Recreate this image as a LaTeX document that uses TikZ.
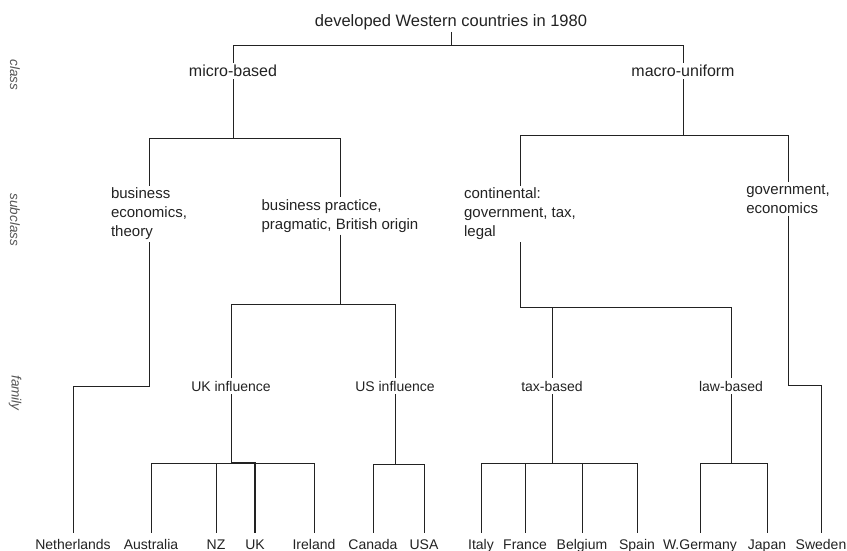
\documentclass[tikz,border=0pt]{standalone}
\usepackage{fontspec}
\setmainfont{Liberation Sans}
\usepackage{tikz}
\usetikzlibrary{positioning, calc}
\definecolor{ink}{HTML}{222222}
\definecolor{faint}{HTML}{555555}
\tikzstyle{rootnode}  = [font=\fontsize{16.5}{20}\selectfont, inner sep=2pt, text=ink]
\tikzstyle{classnode} = [font=\fontsize{16}{19}\selectfont, inner sep=2pt, text=ink]
\tikzstyle{subnode}   = [font=\fontsize{15}{19}\selectfont, align=left, inner sep=2pt, text=ink]
\tikzstyle{famnode}   = [font=\fontsize{14}{17}\selectfont, anchor=base, inner sep=3pt, text=ink]
\tikzstyle{leaf}      = [font=\fontsize{14}{17}\selectfont, anchor=base, inner xsep=2pt,
                         inner ysep=6pt, text=ink]
\tikzstyle{levelname} = [font=\fontsize{13.5}{16}\selectfont\itshape, rotate=-90, text=faint]
\tikzstyle{branch}    = [draw=ink, line width=0.8pt]

\begin{document}
\begin{tikzpicture}[x=1pt, y=-1pt]
  \useasboundingbox (0,0) rectangle (847,551);

  %% Level names
  \node[levelname] (lvclass) at (15,75)  {class};
  \node[levelname] (lvsub)   at (15,220) {subclass};
  \node[levelname] (lvfam)   at (15,393) {family};

  %% Root and classes
  \node[rootnode]  (root)  at (451,22) {developed Western countries in 1980};
  \node[classnode] (micro) at (233,71) {micro-based};
  \node[classnode] (macro) at (683,71) {macro-uniform};

  %% Subclasses
  \node[subnode] (bizecon) at (149,214) {business\\economics,\\theory};
  \node[subnode] (bizprac) at (340,216) {business practice,\\pragmatic, British origin};
  \node[subnode] (cont)    at (520,214) {continental:\\government, tax,\\legal};
  \node[subnode] (goveco)  at (788,199) {government,\\economics};

  %% Families
  \node[famnode] (ukinf) at (231,391) {UK influence};
  \node[famnode] (usinf) at (395,391) {US influence};
  \node[famnode] (taxb)  at (552,391) {tax-based};
  \node[famnode] (lawb)  at (731,391) {law-based};

  %% Countries
  \node[leaf] (nl) at (73,549)  {Netherlands};
  \node[leaf] (au) at (151,549) {Australia};
  \node[leaf] (nz) at (216,549) {NZ};
  \node[leaf] (uk) at (255,549) {UK};
  \node[leaf] (ie) at (314,549) {Ireland};
  \node[leaf] (ca) at (373,549) {Canada};
  \node[leaf] (us) at (424,549) {USA};
  \node[leaf] (it) at (481,549) {Italy};
  \node[leaf] (fr) at (525,549) {France};
  \node[leaf] (be) at (582,549) {Belgium};
  \node[leaf] (es) at (637,549) {Spain};
  \node[leaf] (de) at (700,549) {W.Germany};
  \node[leaf] (jp) at (767,549) {Japan};
  \node[leaf] (se) at (821,549) {Sweden};

  %% Junctions
  \coordinate (rj)   at (451,45);
  \coordinate (mij)  at (233,138);
  \coordinate (maj)  at (683,135);
  \coordinate (nlj)  at (149,386);
  \coordinate (bpj)  at (340,304);
  \coordinate (cj)   at (520,307);
  \coordinate (sej)  at (788,385);
  \coordinate (ukj)  at (231,463);
  \coordinate (usj)  at (395,464);
  \coordinate (taxj) at (552,463);
  \coordinate (lawj) at (731,463);

  %% Branches
  \draw[branch] (root.south) -- (rj) -| (micro.north);
  \draw[branch] (rj) -| (macro.north);

  \draw[branch] (micro.south) -- (mij) -| (bizecon.north);
  \draw[branch] (mij) -| (bizprac.north);
  \draw[branch] (macro.south) -- (maj) -| (cont.north);
  \draw[branch] (maj) -| (goveco.north);

  \draw[branch] (bizecon.south) -- (nlj) -| (nl.north);
  \draw[branch] (bizprac.south) -- (bpj) -| (ukinf.north);
  \draw[branch] (bpj) -| (usinf.north);
  \draw[branch] (cont.south) -- (cj) -| (taxb.north);
  \draw[branch] (cj) -| (lawb.north);
  \draw[branch] (goveco.south) -- (sej) -| (se.north);

  \draw[branch] (ukinf.south) -- (ukj) -| (au.north);
  \draw[branch] (ukj) -| (nz.north);
  \draw[branch] (ukj) -| (ie.north);
  \draw[branch, line width=1.6pt] (ukj) -| (uk.north);
  \draw[branch] (usinf.south) -- (usj) -| (ca.north);
  \draw[branch] (usj) -| (us.north);

  \draw[branch] (taxb.south) -- (taxj) -| (it.north);
  \draw[branch] (taxj) -| (fr.north);
  \draw[branch] (taxj) -| (be.north);
  \draw[branch] (taxj) -| (es.north);
  \draw[branch] (lawb.south) -- (lawj) -| (de.north);
  \draw[branch] (lawj) -| (jp.north);

\end{tikzpicture}
\end{document}
